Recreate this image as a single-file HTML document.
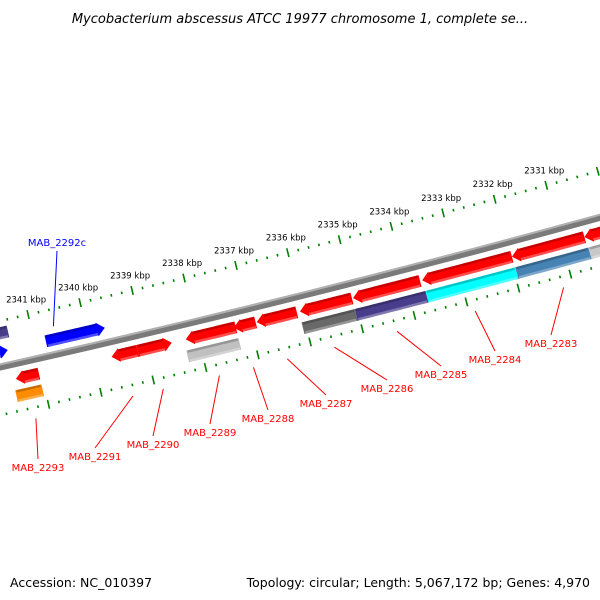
<!DOCTYPE html>
<html><head><meta charset="utf-8"><style>
html,body{margin:0;padding:0;background:#fff;}
svg{display:block;font-family:"DejaVu Sans","Liberation Sans",sans-serif;}
</style></head><body>
<svg id="map" width="600" height="600" viewBox="0 0 600 600">
<rect width="600" height="600" fill="#fff"/>
<text x="300" y="23" text-anchor="middle" font-size="13" font-style="italic" fill="#000">Mycobacterium abscessus ATCC 19977 chromosome 1, complete se...</text>
<text x="10" y="587" font-size="12.5" fill="#000">Accession: NC_010397</text>
<text x="590" y="587" text-anchor="end" font-size="12.5" fill="#000">Topology: circular; Length: 5,067,172 bp; Genes: 4,970</text>
<g id="layer"></g>
</svg>
<script>
// ---- data ----
var tickKbp = [2341, 2340, 2339, 2338, 2337, 2336, 2335, 2334, 2333, 2332, 2331];
var tickLabels = ["2341 kbp","2340 kbp","2339 kbp","2338 kbp","2337 kbp","2336 kbp","2335 kbp","2334 kbp","2333 kbp","2332 kbp","2331 kbp"];
var featStart = [2341.30, 2339.47, 2338.97, 2338.05, 2337.13, 2336.69, 2335.86, 2334.84, 2333.51, 2331.78, 2330.38, 2341.36, 2338.09, 2335.88, 2334.86, 2333.50, 2331.77, 2330.36, 2340.60, 2341.88, 2341.80];
var featEnd   = [2340.86, 2338.97, 2338.32, 2337.09, 2336.71, 2335.92, 2334.86, 2333.55, 2331.78, 2330.38, 2329.50, 2340.86, 2337.09, 2334.86, 2333.50, 2331.77, 2330.36, 2329.50, 2339.47, 2341.33, 2341.25];
var featRing  = [1,1,1,1,1,1,1,1,1,1,1, 2,2,2,2,2,2,2, -1,-1,-2];
var featDir   = [-1,-1,1,-1,-1,-1,-1,-1,-1,-1,-1, 0,0,0,0,0,0,0, 1,1,0];
var featColor = ["#ff0000","#ff0000","#ff0000","#ff0000","#ff0000","#ff0000","#ff0000","#ff0000","#ff0000","#ff0000","#ff0000","#ff8c00","#c0c0c0","#696969","#483d8b","#00ffff","#4682b4","#c8c8c8","#0000ff","#0000ff","#483d8b"];
var geneNames = ["MAB_2293","MAB_2291","MAB_2290","MAB_2289","MAB_2288","MAB_2287","MAB_2286","MAB_2285","MAB_2284","MAB_2283","MAB_2292c"];
var geneKbp   = [2341.1, 2339.25, 2338.67, 2337.6, 2336.95, 2336.3, 2335.4, 2334.2, 2332.7, 2331.0, 2340.4];
var labelX = [38, 95, 153, 210, 268, 326, 387, 441, 495, 551, 57];
var labelY = [467, 456, 444, 432, 418, 403, 388, 374, 359, 343, 242];

// ---- geometry ----
var R = 13000, P0 = [300, 296], a0 = Math.atan2(0.242, 0.970);
var cx = P0[0] - R * Math.sin(a0), cy = P0[1] - R * Math.cos(a0);
var RULER_SHIFT = 10 / 53.6;
function sOf(k) { return (2336 - k) * 53.6 - 11.3; }
function pos(k, r) { var a = a0 + sOf(k) / R; return [cx + (R + r) * Math.sin(a), cy + (R + r) * Math.cos(a)]; }
var NS = "http://www.w3.org/2000/svg";
var layer = document.getElementById("layer");
function mk(tag, attrs) { var e = document.createElementNS(NS, tag); for (var k in attrs) e.setAttribute(k, attrs[k]); layer.appendChild(e); return e; }
function arcPts(k1, k2, r) { var pts = [], n = 20; for (var i = 0; i <= n; i++) { var p = pos(k1 + (k2 - k1) * i / n, r); pts.push(p[0].toFixed(2) + "," + p[1].toFixed(2)); } return pts; }
function band(k1, k2, r1, r2) { return arcPts(k1, k2, r1).concat(arcPts(k2, k1, r2)).join(" "); }

// backbone
var e;
e = mk("polygon", {points: band(2342.5, 2329, -3.5, 3.5), fill: "#7a7a7a"});


e = mk("polygon", {points: band(2342.5, 2329, -3.5, -1.5), fill: "#b0b0b0"});



// rulers
var rulers = [-45, 47];
rulers.forEach(function (rr, ri) {
  for (var k = 2342.6; k >= 2329.4; k -= 0.2) {
    var kk = Math.round(k * 10) / 10;
    var major = Math.abs(kk - Math.round(kk)) < 0.01;
    var h = major ? 4.5 : 1.3;
    var dk = 0.8 / 53.6;
    var kp = kk - RULER_SHIFT;
    var t = mk("polygon", {points: band(kp - dk, kp + dk, rr - h, rr + h), fill: "#008000"});
    
    
  }
});
tickKbp.forEach(function (k, i) {
  var p = pos(k - RULER_SHIFT, -45);
  var t = mk("text", {x: (p[0] - 2).toFixed(1), y: (p[1] - 12).toFixed(1), "text-anchor": "middle", "font-size": "8.5", fill: "#000"});
  t.textContent = tickLabels[i];
  
  
});

// features
var ringR = {"1": 15, "2": 32, "-1": -15, "-2": -33};
var TH = 6, HEAD = 8 / 53.6;
featStart.forEach(function (ks, i) {
  var ke = featEnd[i], rc = ringR[featRing[i]], col = featColor[i], d = featDir[i];
  var r1 = rc - TH, r2 = rc + TH, poly;
  if (d === 0) {
    poly = band(ks, ke, r1, r2);
  } else {
    var tip = d === 1 ? Math.min(ks, ke) : Math.max(ks, ke);
    var tail = d === 1 ? Math.max(ks, ke) : Math.min(ks, ke);
    var neck = d === 1 ? tip + HEAD : tip - HEAD;
    var pt = pos(tip, rc), n1 = pos(neck, r1 - 1), n2 = pos(neck, r2 + 1);
    poly = arcPts(tail, neck, r1).join(" ") + " " + n1.join(",") + " " + pt.join(",") + " " + n2.join(",") + " " + arcPts(neck, tail, r2).join(" ");
  }
  var f = mk("polygon", {points: poly, fill: col});
  
  
  var lo = Math.min(ks, ke) + (d === 1 ? HEAD : 0.02), hi = Math.max(ks, ke) - (d === -1 ? HEAD : 0.02);
  var dk = mk("polygon", {points: band(lo, hi, r1, r1 + 2.5), fill: "#000", "fill-opacity": "0.22"});
  
  
  var lt = mk("polygon", {points: band(lo, hi, r2 - 2.5, r2), fill: "#fff", "fill-opacity": "0.3"});
  
  
});

// gene labels
geneNames.forEach(function (g, i) {
  var inner = g === "MAB_2292c";
  var col = inner ? "#0000ff" : "#ff0000";
  var p = pos(geneKbp[i], inner ? -28 : 58);
  var ly = inner ? labelY[i] + 9 : labelY[i] - 8;
  var l = mk("line", {x1: p[0].toFixed(1), y1: p[1].toFixed(1), x2: labelX[i], y2: ly, stroke: col, "stroke-width": "1"});
  
  
  var t = mk("text", {x: labelX[i], y: labelY[i] + 4, "text-anchor": "middle", "font-size": "10", fill: col});
  t.textContent = g;
  
  
});
</script>
</body></html>
